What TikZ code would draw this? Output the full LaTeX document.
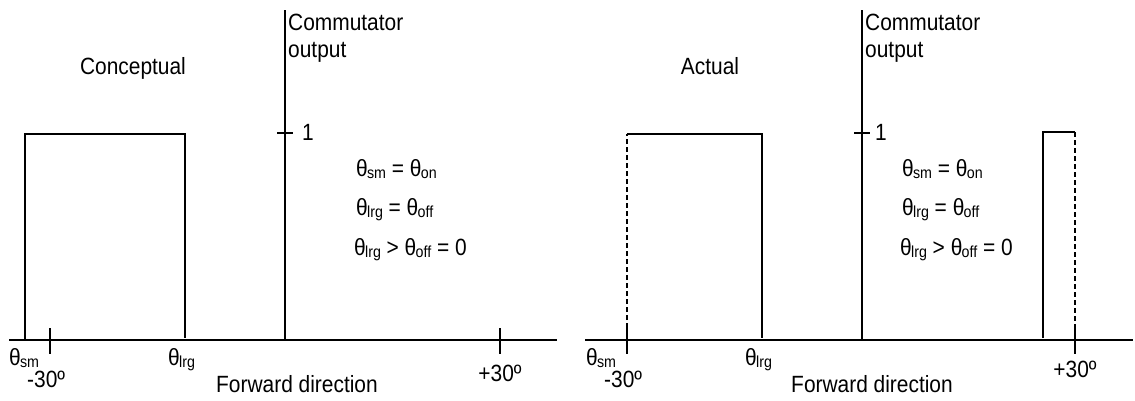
\documentclass[tikz,border=0pt]{standalone}
\usepackage{fontspec}
\setmainfont{Liberation Sans}
\newcommand{\sbs}[1]{\kern-0.8pt\raisebox{-2.4pt}{\fontsize{16}{17}\selectfont #1}}
\begin{document}
\begin{tikzpicture}[x=1pt,y=-1pt,
  lbl/.style={inner sep=0pt, font=\fontsize{23.5}{26}\selectfont, xscale=0.89},
  ax/.style={line width=2.2pt},
  edge/.style={line width=1.9pt},
  dsh/.style={line width=1.5pt, dash pattern=on 5pt off 3pt}]
\useasboundingbox (0,0) rectangle (1135,400);
% ---------- left panel ----------
\coordinate (LaxL) at (9,340);   \coordinate (LaxR) at (557,340);
\coordinate (LvB) at (285,340);  \coordinate (LvT) at (285,10);
\coordinate (Lt1a) at (277,133); \coordinate (Lt1b) at (293,133);
\coordinate (Lr1) at (25,340);   \coordinate (Lr2) at (25,134);
\coordinate (Lr3) at (185,134);  \coordinate (Lr4) at (185,338);
\coordinate (Lm30a) at (50,328); \coordinate (Lm30b) at (50,354);
\coordinate (Lp30a) at (500,328);\coordinate (Lp30b) at (500,354);
\draw[ax] (LaxL) -- (LaxR);
\draw[ax] (LvB) -- (LvT);
\draw[ax] (Lt1a) -- (Lt1b);
\draw[ax] (Lm30a) -- (Lm30b);
\draw[ax] (Lp30a) -- (Lp30b);
\draw[edge] (Lr1) -- (Lr2) -- (Lr3) -- (Lr4);
\node[lbl, anchor=base] (conc) at (133,74) {Conceptual};
\node[lbl, anchor=base west] (Lcomm) at (288,30) {Commutator};
\node[lbl, anchor=base west] (Lout) at (288,57) {output};
\node[lbl, anchor=base west] (Lone) at (302,140) {1};
\node[lbl, anchor=base west] (Leq1) at (356,176) {θ\sbs{sm} = θ\sbs{on}};
\node[lbl, anchor=base west] (Leq2) at (356,215) {θ\sbs{lrg} = θ\sbs{off}};
\node[lbl, anchor=base west] (Leq3) at (354,255) {θ\sbs{lrg} > θ\sbs{off} = 0};
\node[lbl, anchor=base west] (Lsm) at (9,365) {θ\sbs{sm}};
\node[lbl, anchor=base west] (Lm30) at (27,387) {-30º};
\node[lbl, anchor=base west] (Llrg) at (168,365) {θ\sbs{lrg}};
\node[lbl, anchor=base] (Lfwd) at (297,392) {Forward direction};
\node[lbl, anchor=base] (Lp30) at (500,381) {+30º};
% ---------- right panel ----------
\coordinate (RaxL) at (585,340);  \coordinate (RaxR) at (1133,340);
\coordinate (RvB) at (862,340);   \coordinate (RvT) at (862,10);
\coordinate (Rt1a) at (854,133);  \coordinate (Rt1b) at (870,133);
\coordinate (Rm30a) at (627,328); \coordinate (Rm30b) at (627,354);
\coordinate (Rd1) at (627,134);   \coordinate (Rr3) at (762,134);
\coordinate (Rr4) at (762,338);
\coordinate (Rs1) at (1043,338);  \coordinate (Rs2) at (1043,132);
\coordinate (Rs3) at (1075,132);  \coordinate (Rs4) at (1075,340);
\coordinate (Rp30a) at (1075,328);\coordinate (Rp30b) at (1075,354);
\draw[ax] (RaxL) -- (RaxR);
\draw[ax] (RvB) -- (RvT);
\draw[ax] (Rt1a) -- (Rt1b);
\draw[ax] (Rm30a) -- (Rm30b);
\draw[ax] (Rp30a) -- (Rp30b);
\draw[dsh] (Rm30a) -- (Rd1);
\draw[edge] (Rd1) -- (Rr3) -- (Rr4);
\draw[edge] (Rs1) -- (Rs2) -- (Rs3);
\draw[dsh] (Rs3) -- (Rs4);
\node[lbl, anchor=base] (act) at (710,74) {Actual};
\node[lbl, anchor=base west] (Rcomm) at (865,30) {Commutator};
\node[lbl, anchor=base west] (Rout) at (865,57) {output};
\node[lbl, anchor=base west] (Rone) at (875,140) {1};
\node[lbl, anchor=base west] (Req1) at (902,176) {θ\sbs{sm} = θ\sbs{on}};
\node[lbl, anchor=base west] (Req2) at (902,215) {θ\sbs{lrg} = θ\sbs{off}};
\node[lbl, anchor=base west] (Req3) at (900,255) {θ\sbs{lrg} > θ\sbs{off} = 0};
\node[lbl, anchor=base west] (Rsm) at (586,365) {θ\sbs{sm}};
\node[lbl, anchor=base west] (Rm30) at (604,387) {-30º};
\node[lbl, anchor=base west] (Rlrg) at (745,365) {θ\sbs{lrg}};
\node[lbl, anchor=base] (Rfwd) at (872,392) {Forward direction};
\node[lbl, anchor=base] (Rp30) at (1075,377) {+30º};
\end{tikzpicture}
\end{document}
